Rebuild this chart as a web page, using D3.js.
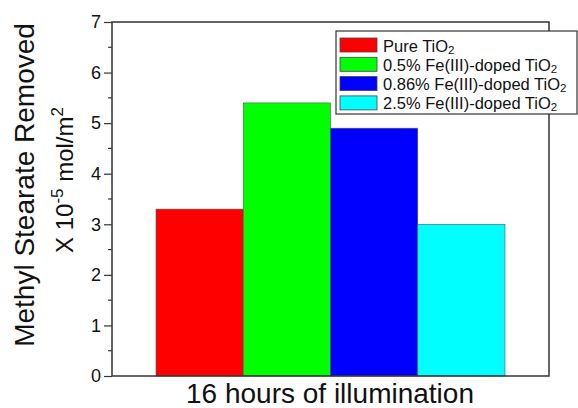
<!DOCTYPE html>
<html>
<head>
<meta charset="utf-8">
<script src="https://cdn.jsdelivr.net/npm/d3@7"></script>
<style>
  body { margin: 0; background: #fff; }
  text { font-family: "Liberation Sans", Arial, sans-serif; fill: #111; }
</style>
</head>
<body>
<div id="chart"></div>
<script>
var series = ["Pure TiO2", "0.5% Fe(III)-doped TiO2", "0.86% Fe(III)-doped TiO2", "2.5% Fe(III)-doped TiO2"],
    values = [3.3, 5.4, 4.9, 3.0],
    colors = ["#ff0000", "#00ff00", "#0000ff", "#00ffff"],
    yTicks = [0, 1, 2, 3, 4, 5, 6, 7],
    xLabel = "16 hours of illumination";

var W = 578, H = 408,
    margin = {top: 22, right: 29, bottom: 32, left: 112},
    width = W - margin.left - margin.right,
    height = H - margin.top - margin.bottom;

var svg = d3.select("#chart").append("svg")
    .attr("width", W)
    .attr("height", H);

var g = svg.append("g")
    .attr("transform", "translate(" + margin.left + "," + margin.top + ")");

var y = d3.scaleLinear().domain([0, 7]).range([height, 0]);

// bars occupy the middle of the frame
var x = d3.scaleBand()
    .domain(series)
    .range([44, 393])
    .padding(0);

g.selectAll(".bar")
    .data(values)
    .enter().append("rect")
    .attr("class", "bar")
    .attr("x", function (d, i) { return x(series[i]); })
    .attr("y", function (d) { return y(d); })
    .attr("width", x.bandwidth())
    .attr("height", function (d) { return height - y(d); })
    .style("fill", function (d, i) { return colors[i]; })
    .style("stroke", "#555")
    .style("stroke-width", 0.6);

// frame
g.append("rect")
    .attr("x", 0).attr("y", 0)
    .attr("width", width).attr("height", height)
    .style("fill", "none")
    .style("stroke", "#333")
    .style("stroke-width", 1.5);

// y axis, major + minor ticks
var yAxis = d3.axisLeft(y).tickValues(yTicks).tickSize(8).tickPadding(3).tickFormat(d3.format("d"));
var ya = g.append("g").call(yAxis);
ya.select(".domain").remove();
ya.selectAll("line").style("stroke", "#333").style("stroke-width", 1.2);
ya.selectAll("text").style("font-size", "18px").attr("fill", "#111");

var minor = d3.range(0.5, 7, 1);
g.selectAll(".minor")
    .data(minor)
    .enter().append("line")
    .attr("x1", -4).attr("x2", 0)
    .attr("y1", function (d) { return y(d); })
    .attr("y2", function (d) { return y(d); })
    .style("stroke", "#333")
    .style("stroke-width", 1.2);

// x label
svg.append("text")
    .attr("x", 330)
    .attr("y", 403)
    .style("text-anchor", "middle")
    .style("font-size", "28px")
    .text(xLabel);

// y labels
svg.append("text")
    .attr("transform", "translate(34,185) rotate(-90)")
    .style("text-anchor", "middle")
    .style("font-size", "28px")
    .text("Methyl Stearate Removed");

var yl2 = svg.append("text")
    .attr("transform", "translate(73,180) rotate(-90)")
    .style("text-anchor", "middle")
    .style("font-size", "24px");
yl2.append("tspan").text("X 10");
yl2.append("tspan").attr("dy", -10).style("font-size", "17px").text("-5");
yl2.append("tspan").attr("dy", 10).text(" mol/m");
yl2.append("tspan").attr("dy", -10).style("font-size", "17px").text("2");

// legend
var lg = svg.append("g").attr("transform", "translate(336,31)");
lg.append("rect")
    .attr("width", 241).attr("height", 83)
    .style("fill", "#fff")
    .style("stroke", "#333")
    .style("stroke-width", 1.2);

var rowH = 19.3;
var items = lg.selectAll(".legend")
    .data(series)
    .enter().append("g")
    .attr("class", "legend")
    .attr("transform", function (d, i) { return "translate(4," + (7 + i * rowH) + ")"; });

items.append("rect")
    .attr("width", 37).attr("height", 14)
    .style("fill", function (d, i) { return colors[i]; })
    .style("stroke", "#444")
    .style("stroke-width", 0.8);

var lt = items.append("text")
    .attr("x", 43)
    .attr("y", 13.5)
    .style("font-size", "16.5px");
lt.append("tspan").text(function (d) { return d.slice(0, -1); });
lt.append("tspan").attr("dy", 2).style("font-size", "11.5px").text("2");
</script>
</body>
</html>
